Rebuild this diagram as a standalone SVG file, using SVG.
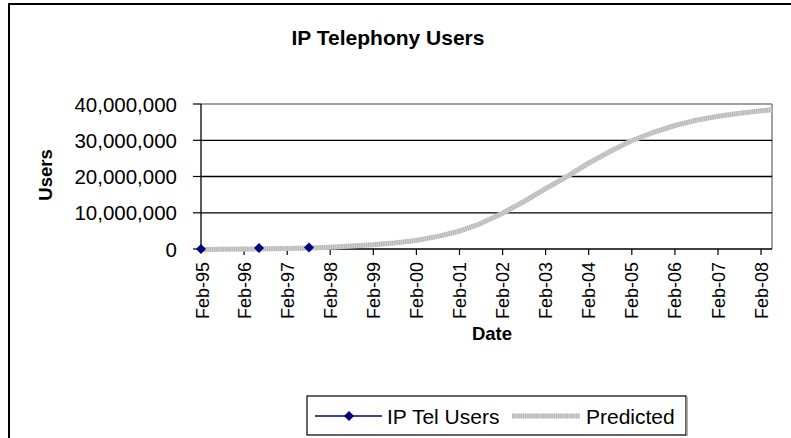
<svg xmlns="http://www.w3.org/2000/svg" width="791" height="438" viewBox="0 0 791 438">
<style>
text{font-family:"Liberation Sans",Arial,sans-serif;fill:#000}
.ylab{font-size:20.5px;text-anchor:end}
.xlab{font-size:18px;text-anchor:end}
.leg{font-size:21px}
.bold{font-weight:bold}
.grid{stroke:#000;stroke-width:1.3;fill:none}
.gborder{stroke:#808080;stroke-width:1.5;fill:none}
.tick{stroke:#000;stroke-width:1.2}
.predA{stroke:#d2d2d2;stroke-width:5;fill:none;stroke-linejoin:round}
.predB{stroke:#999;stroke-width:5;fill:none;stroke-dasharray:1 1.2;opacity:.55}
.blue{stroke:#000080;stroke-width:1.5;fill:none}
</style>
<defs>
<path id="dia" d="M0,-5 L5,0 L0,5 L-5,0 Z" fill="#000080"/>
</defs>
<rect x="0" y="0" width="791" height="438" fill="#fff"/>
<rect id="chartarea" x="9" y="4" width="800" height="450" fill="#fff" stroke="#000" stroke-width="2"/>
<g id="title"><text class="bold" x="388" y="45" font-size="21" text-anchor="middle">IP Telephony Users</text></g>
<g id="plotarea">
<line class="gborder" x1="201" y1="104" x2="772" y2="104"/>
<line class="gborder" x1="772" y1="104" x2="772" y2="249"/>
<line class="grid" x1="201" y1="140.3" x2="772" y2="140.3"/>
<line class="grid" x1="201" y1="176.5" x2="772" y2="176.5"/>
<line class="grid" x1="201" y1="212.8" x2="772" y2="212.8"/>
<line class="grid" x1="201" y1="249" x2="772" y2="249"/>
<line class="grid" x1="201" y1="104" x2="201" y2="249"/>
</g>
<g id="yaxis">
<g class="tick">
<line x1="193" y1="104" x2="201" y2="104"/><line x1="193" y1="140.3" x2="201" y2="140.3"/><line x1="193" y1="176.5" x2="201" y2="176.5"/><line x1="193" y1="212.8" x2="201" y2="212.8"/><line x1="193" y1="249" x2="201" y2="249"/>
</g>
<text class="ylab" x="177" y="111.5">40,000,000</text>
<text class="ylab" x="177" y="147.5">30,000,000</text>
<text class="ylab" x="177" y="184">20,000,000</text>
<text class="ylab" x="177" y="220">10,000,000</text>
<text class="ylab" x="177" y="256.5">0</text>
<text class="bold" font-size="18.5" text-anchor="middle" transform="translate(52,175) rotate(-90)">Users</text>
</g>
<g id="xaxis">
<g class="tick">
<line x1="244.1" y1="249" x2="244.1" y2="255"/><line x1="287.2" y1="249" x2="287.2" y2="255"/><line x1="330.2" y1="249" x2="330.2" y2="255"/><line x1="373.3" y1="249" x2="373.3" y2="255"/><line x1="416.4" y1="249" x2="416.4" y2="255"/><line x1="459.5" y1="249" x2="459.5" y2="255"/><line x1="502.6" y1="249" x2="502.6" y2="255"/><line x1="545.6" y1="249" x2="545.6" y2="255"/><line x1="588.7" y1="249" x2="588.7" y2="255"/><line x1="631.8" y1="249" x2="631.8" y2="255"/><line x1="674.9" y1="249" x2="674.9" y2="255"/><line x1="718" y1="249" x2="718" y2="255"/><line x1="761" y1="249" x2="761" y2="255"/>
</g>
<text class="xlab" transform="translate(208.5,262) rotate(-90)">Feb-95</text>
<text class="xlab" transform="translate(250.6,262) rotate(-90)">Feb-96</text>
<text class="xlab" transform="translate(293.7,262) rotate(-90)">Feb-97</text>
<text class="xlab" transform="translate(336.7,262) rotate(-90)">Feb-98</text>
<text class="xlab" transform="translate(379.8,262) rotate(-90)">Feb-99</text>
<text class="xlab" transform="translate(422.9,262) rotate(-90)">Feb-00</text>
<text class="xlab" transform="translate(466,262) rotate(-90)">Feb-01</text>
<text class="xlab" transform="translate(509.1,262) rotate(-90)">Feb-02</text>
<text class="xlab" transform="translate(552.1,262) rotate(-90)">Feb-03</text>
<text class="xlab" transform="translate(595.2,262) rotate(-90)">Feb-04</text>
<text class="xlab" transform="translate(638.3,262) rotate(-90)">Feb-05</text>
<text class="xlab" transform="translate(681.4,262) rotate(-90)">Feb-06</text>
<text class="xlab" transform="translate(724.5,262) rotate(-90)">Feb-07</text>
<text class="xlab" transform="translate(767.5,262) rotate(-90)">Feb-08</text>
<text class="bold" x="492" y="340" font-size="18.5" text-anchor="middle">Date</text>
</g>
<g id="series-iptel-line">
<polyline class="blue" points="201,249 259,248 309,247.5"/>
</g>
<g id="series-predicted">
<polyline class="predA" points="201,249.5 244,249.1 287,248.5 310,248 330,247.2 351,246.1 373,244.8 394,243 416,240.4 437,236.6 459,231.3 480,223.8 502,213.5 524,201.5 545,189 567,176.5 588,163.5 610,151.5 631,141 653,132.5 675,125.5 696,120.3 718,116.3 740,113.2 761,110.8 772,109.8"/>
<polyline class="predB" points="201,249.5 244,249.1 287,248.5 310,248 330,247.2 351,246.1 373,244.8 394,243 416,240.4 437,236.6 459,231.3 480,223.8 502,213.5 524,201.5 545,189 567,176.5 588,163.5 610,151.5 631,141 653,132.5 675,125.5 696,120.3 718,116.3 740,113.2 761,110.8 772,109.8"/>
</g>
<g id="series-iptel-markers">
<use href="#dia" x="201" y="249"/>
<use href="#dia" x="259" y="248"/>
<use href="#dia" x="309" y="247.5"/>
</g>
<g id="legend">
<rect x="307" y="396" width="379" height="39" fill="#fff" stroke="#000" stroke-width="1.2"/>
<line x1="687" y1="397" x2="687" y2="436" stroke="#999" stroke-width="1.5"/>
<line class="blue" x1="315" y1="416" x2="382" y2="416"/>
<use href="#dia" x="349" y="416"/>
<text class="leg" x="387" y="423.5">IP Tel Users</text>
<line class="predA" x1="512" y1="416" x2="580" y2="416"/>
<line class="predB" x1="512" y1="416" x2="580" y2="416"/>
<text class="leg" x="586" y="423.5">Predicted</text>
</g>
</svg>
